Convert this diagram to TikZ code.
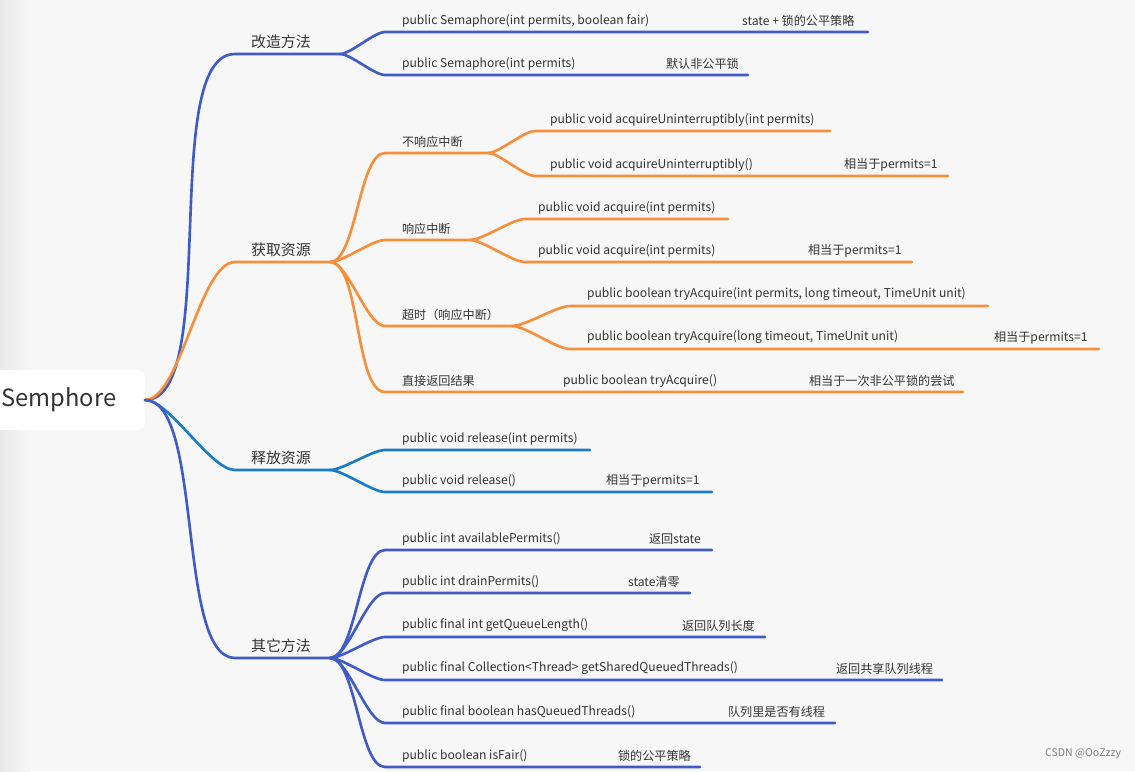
\documentclass[tikz,border=0pt]{standalone}
\usepackage{fontspec}
\setmainfont{Noto Sans CJK SC}
\usetikzlibrary{positioning}
\definecolor{bggray}{HTML}{F7F7F7}
\definecolor{kblue}{HTML}{3F5BC6}
\definecolor{korange}{HTML}{F78F3A}
\definecolor{kcyan}{HTML}{1A7CC4}
\definecolor{ktext}{HTML}{333333}
\tikzset{
  br/.style={line width=1.5pt, line cap=round},
  lone/.style={anchor=south west, inner sep=1pt, text=ktext, font=\fontsize{8.5}{10}\selectfont},
  ltwo/.style={anchor=south west, inner sep=1pt, text=ktext, font=\fontsize{6.9}{8}\selectfont},
}
\newcommand{\edge}[6]{% color, from, x1, x2, y, name
  \coordinate (#6s) at (#3,#5);
  \coordinate (#6) at (#4,#5);
  \draw[br,#1] (#2) to[out=0,in=180,looseness=0.55] (#6s) -- (#6);}
\begin{document}
\begin{tikzpicture}[x=0.02cm,y=-0.02cm]
  \useasboundingbox (0,0) rectangle (1135,771);
  \fill[bggray] (0,0) rectangle (1135,771);
  \fill[left color=gray!18, right color=bggray] (0,0) rectangle (30,771);
  \fill[white, rounded corners=4pt] (-10,370) rectangle (145,430);
  \node[anchor=west, inner sep=0pt, text=ktext, font=\fontsize{13.5}{16}\selectfont] (root) at (1,400) {Semphore};
  \coordinate (r) at (145,400);

  % 改造方法
  \edge{kblue}{r}{235}{340}{54}{a}
  \node[lone] (at) at (249,51) {改造方法};
  \edge{kblue}{a}{385}{868}{32}{a1}
  \edge{kblue}{a}{385}{748}{75}{a2}
  \node[ltwo] at (400,29) {public Semaphore(int permits, boolean fair)};
  \node[ltwo] at (740,29) {state + 锁的公平策略};
  \node[ltwo] at (400,72) {public Semaphore(int permits)};
  \node[ltwo] at (664,72) {默认非公平锁};

  % 获取资源
  \edge{korange}{r}{235}{330}{262}{b}
  \node[lone] (bt) at (249,259) {获取资源};
  \edge{korange}{b}{385}{488}{153}{b1}
  \node[ltwo] at (400,150) {不响应中断};
  \edge{korange}{b1}{535}{830}{131}{b11}
  \edge{korange}{b1}{535}{948}{176}{b12}
  \node[ltwo] at (548,128) {public void acquireUninterruptibly(int permits)};
  \node[ltwo] at (548,173) {public void acquireUninterruptibly()};
  \node[ltwo] at (842,173) {相当于permits=1};
  \edge{korange}{b}{385}{470}{240}{b2}
  \node[ltwo] at (400,237) {响应中断};
  \edge{korange}{b2}{525}{728}{219}{b21}
  \edge{korange}{b2}{525}{912}{262}{b22}
  \node[ltwo] at (536,216) {public void acquire(int permits)};
  \node[ltwo] at (536,259) {public void acquire(int permits)};
  \node[ltwo] at (806,259) {相当于permits=1};
  \edge{korange}{b}{385}{512}{326}{b3}
  \node[ltwo] at (400,323) {超时（响应中断）};
  \edge{korange}{b3}{570}{988}{306}{b31}
  \edge{korange}{b3}{570}{1099}{349}{b32}
  \node[ltwo] at (585,303) {public boolean tryAcquire(int permits, long timeout, TimeUnit unit)};
  \node[ltwo] at (585,346) {public boolean tryAcquire(long timeout, TimeUnit unit)};
  \node[ltwo] at (992,346) {相当于permits=1};
  \edge{korange}{b}{385}{963}{392}{b4}
  \node[ltwo] at (400,389) {直接返回结果};
  \node[ltwo] at (561,389) {public boolean tryAcquire()};
  \node[ltwo] at (807,389) {相当于一次非公平锁的尝试};

  % 释放资源
  \edge{kcyan}{r}{235}{330}{470}{c}
  \node[lone] (ct) at (249,467) {释放资源};
  \edge{kcyan}{c}{385}{590}{450}{c1}
  \edge{kcyan}{c}{385}{712}{492}{c2}
  \node[ltwo] at (400,447) {public void release(int permits)};
  \node[ltwo] at (400,489) {public void release()};
  \node[ltwo] at (604,489) {相当于permits=1};

  % 其它方法
  \edge{kblue}{r}{235}{330}{658}{d}
  \node[lone] (dt) at (249,655) {其它方法};
  \edge{kblue}{d}{385}{712}{550}{d1}
  \edge{kblue}{d}{385}{690}{593}{d2}
  \edge{kblue}{d}{385}{765}{637}{d3}
  \edge{kblue}{d}{385}{942}{680}{d4}
  \edge{kblue}{d}{385}{835}{723}{d5}
  \edge{kblue}{d}{385}{700}{767}{d6}
  \node[ltwo] at (400,547) {public int availablePermits()};
  \node[ltwo] at (647,547) {返回state};
  \node[ltwo] at (400,590) {public int drainPermits()};
  \node[ltwo] at (626,590) {state清零};
  \node[ltwo] at (400,634) {public final int getQueueLength()};
  \node[ltwo] at (680,634) {返回队列长度};
  \node[ltwo] at (400,677) {public final Collection<Thread> getSharedQueuedThreads()};
  \node[ltwo] at (834,677) {返回共享队列线程};
  \node[ltwo] at (400,720) {public final boolean hasQueuedThreads()};
  \node[ltwo] at (726,720) {队列里是否有线程};
  \node[ltwo] at (400,764) {public boolean isFair()};
  \node[ltwo] at (616,764) {锁的公平策略};
  \node[anchor=south east, inner sep=2pt, text=gray, font=\fontsize{6}{7}\selectfont] at (1125,763) {CSDN @OoZzzy};
\end{tikzpicture}
\end{document}
